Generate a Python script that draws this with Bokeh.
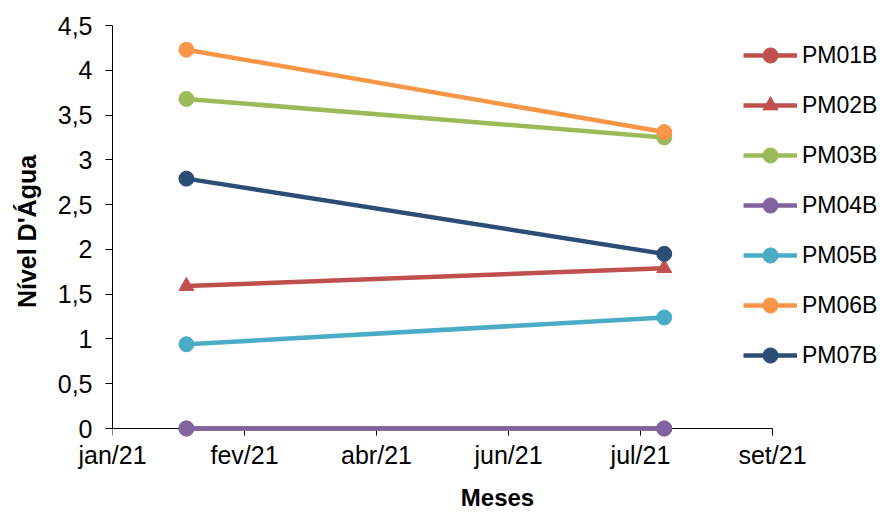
from datetime import datetime, timedelta
from bokeh.plotting import figure
from bokeh.models import Range1d, FixedTicker, Legend, LegendItem
from bokeh.embed import file_html
from bokeh.resources import INLINE

# ---- data ----
dates = ["2021-02-01", "2021-08-01"]
series_names = ["PM01B", "PM02B", "PM03B", "PM04B", "PM05B", "PM06B", "PM07B"]
pm01b = [0.0, 0.0]
pm02b = [1.59, 1.79]
pm03b = [3.68, 3.25]
pm04b = [0.0, 0.0]
pm05b = [0.94, 1.24]
pm06b = [4.23, 3.31]
pm07b = [2.79, 1.95]

xtick_dates = ["2021-01-04", "2021-02-23", "2021-04-14", "2021-06-03", "2021-07-23", "2021-09-11"]
xtick_labels = ["jan/21", "fev/21", "abr/21", "jun/21", "jul/21", "set/21"]
ytick_vals = [0, 0.5, 1, 1.5, 2, 2.5, 3, 3.5, 4, 4.5]
ytick_labels = ["0", "0,5", "1", "1,5", "2", "2,5", "3", "3,5", "4", "4,5"]

colors = ["#C0504D", "#C0504D", "#9BBB59", "#8064A2", "#4BACC6", "#F79646", "#2C4D75"]
markers = ["circle", "triangle", "circle", "circle", "circle", "circle", "circle"]
values = [pm01b, pm02b, pm03b, pm04b, pm05b, pm06b, pm07b]

FONT = "Liberation Sans"
EPOCH = datetime(1970, 1, 1)

# layout constants (pixels)
W, H = 882, 514
FRAME_L, FRAME_T = 112, 25
ZERO_Y = 428          # pixel row of y = 0
AXIS_RIGHT = 772      # pixel column of last x tick
PAD_BELOW = 9         # room below y=0 so markers at 0 are not clipped
TICK = 7


def to_dt(s):
    return datetime.strptime(s, "%Y-%m-%d")


def to_ms(s):
    return (to_dt(s) - EPOCH).total_seconds() * 1000.0


x = [to_dt(d) for d in dates]

y_top = ytick_vals[-1]
px_per_unit = (ZERO_Y - FRAME_T) / y_top
y_bottom = -PAD_BELOW / px_per_unit
frame_b = ZERO_Y + PAD_BELOW

x0 = to_dt(xtick_dates[0])
x1 = to_dt(xtick_dates[-1])
span = (x1 - x0).total_seconds()
x_end = x0 + timedelta(seconds=span * (W - FRAME_L) / (AXIS_RIGHT - FRAME_L))

p = figure(width=W, height=H, x_axis_type="datetime",
           x_range=Range1d(x0, x_end),
           y_range=Range1d(y_bottom, y_top),
           output_backend="svg", toolbar_location=None,
           min_border_left=FRAME_L, min_border_right=0,
           min_border_top=FRAME_T, min_border_bottom=H - frame_b)

p.outline_line_color = None
p.xgrid.grid_line_color = None
p.ygrid.grid_line_color = None
p.background_fill_color = "white"
p.border_fill_color = "white"

# x axis line and ticks at y = 0
tick_len = TICK / px_per_unit
xt = [to_dt(d) for d in xtick_dates]
p.segment(x0=[xt[0]], y0=[0], x1=[xt[-1]], y1=[0], line_color="#000000", line_width=1)
p.segment(x0=xt, y0=[0] * len(xt), x1=xt, y1=[-tick_len] * len(xt),
          line_color="#000000", line_width=1)

items = []
for name, vals, col, mk in zip(series_names, values, colors, markers):
    lr = p.line(x, vals, line_color=col, line_width=4.5)
    sr = p.scatter(x, vals, marker=mk, size=15, fill_color=col, line_color=col)
    items.append(LegendItem(label=name, renderers=[lr, sr]))

# axes
xticks_ms = [to_ms(d) for d in xtick_dates]
p.xaxis.ticker = FixedTicker(ticks=xticks_ms)
p.xaxis.major_label_overrides = {t: l for t, l in zip(xticks_ms, xtick_labels)}
p.yaxis.ticker = FixedTicker(ticks=ytick_vals)
p.yaxis.major_label_overrides = {float(t): l for t, l in zip(ytick_vals, ytick_labels)}

for ax in (p.xaxis[0], p.yaxis[0]):
    ax.axis_line_color = "#000000"
    ax.axis_line_width = 1
    ax.major_tick_line_color = "#000000"
    ax.major_tick_in = 0
    ax.major_tick_out = TICK
    ax.minor_tick_line_color = None
    ax.major_label_text_font = FONT
    ax.major_label_text_font_size = "25px"
    ax.major_label_text_color = "#000000"
    ax.axis_label_text_font = FONT
    ax.axis_label_text_font_size = "24px"
    ax.axis_label_text_font_style = "bold"
    ax.axis_label_text_color = "#000000"

p.xaxis.axis_line_color = None
p.xaxis.major_tick_line_color = None
p.xaxis.major_tick_out = 0
p.xaxis.axis_label = "Meses"
p.xaxis.major_label_standoff = 3
p.xaxis.axis_label_standoff = 12
p.yaxis.bounds = (0, y_top)
p.yaxis.axis_label = "Nível D'Água"
p.yaxis.axis_label_text_font_size = "25px"
p.yaxis.major_label_standoff = 13
p.yaxis.axis_label_standoff = 14

frame_h = frame_b - FRAME_T
leg_top = 36 - FRAME_T
leg_h = 7 * 38 + 6 * 12
legend = Legend(items=items, location=(743 - FRAME_L, frame_h - leg_top - leg_h),
                orientation="vertical",
                glyph_width=54, glyph_height=38, label_height=38,
                spacing=12, padding=0, margin=0, label_standoff=5,
                label_text_font=FONT, label_text_font_size="23px",
                label_text_color="#000000", label_text_baseline="middle",
                border_line_color=None, background_fill_alpha=0)
p.add_layout(legend, "center")

open("out.html", "w").write(file_html(p, INLINE))
